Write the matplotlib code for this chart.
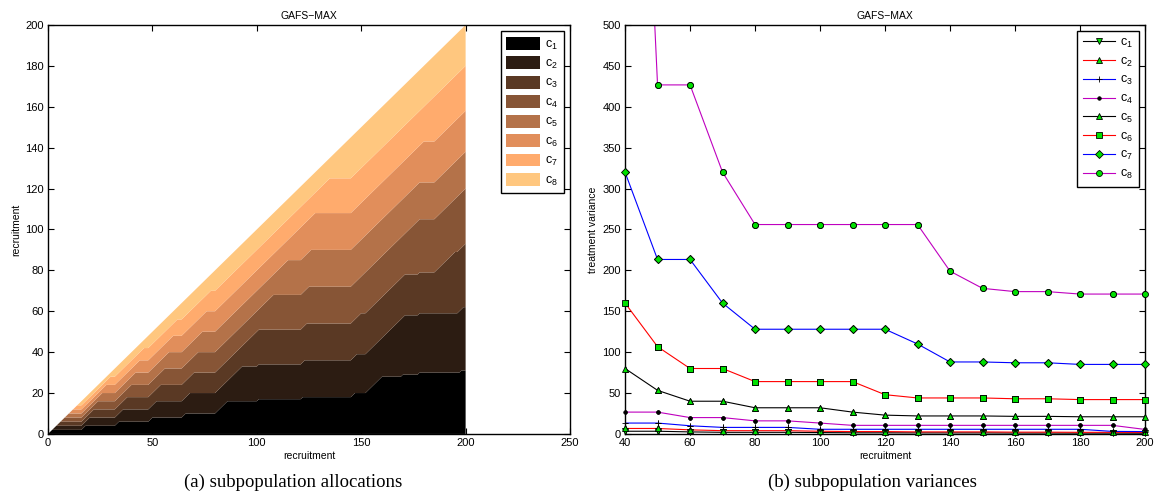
import numpy as np
import matplotlib.pyplot as plt
from matplotlib.patches import Patch

plt.rcParams['font.family'] = ['Liberation Sans', 'DejaVu Sans']
plt.rcParams['mathtext.default'] = 'regular'

# (a) order in which the recruits go to the subpopulations: class, how many in a row
run_class = [1, 2, 3, 4, 5, 6, 7, 8] * 5 + [1, 2, 3, 1, 4, 5, 6, 1, 2, 3, 4, 5, 6, 7, 8,
                                             1, 2, 3, 4, 1, 2, 1, 2, 4, 1, 6, 7, 3, 4, 2, 1, 2, 3]
run_size = [2] * 40 + [6, 7, 7, 1, 7, 7, 6, 1, 1, 1, 1, 1, 2, 7, 10,
                       2, 1, 2, 2, 8, 9, 1, 1, 6, 1, 2, 5, 10, 1, 1, 1, 1, 1]

# (b) treatment variances
recruit_b = [40, 50, 60, 70, 80, 90, 100, 110, 120, 130, 140, 150, 160, 170, 180, 190, 200]
var_c1 = [3.3, 3.3, 2.5, 2.0, 2.0, 2.0, 1.7, 1.4, 1.4, 1.3, 1.3, 1.3, 1.1, 1.1, 1.0, 1.0, 0.9]
var_c2 = [6.7, 6.7, 5.0, 4.0, 4.0, 4.0, 3.3, 2.9, 2.9, 2.5, 2.5, 2.5, 2.2, 2.2, 2.0, 2.0, 1.8]
var_c3 = [13.3, 13.3, 10.0, 8.0, 8.0, 8.0, 5.7, 5.7, 5.7, 5.7, 5.7, 5.7, 5.7, 5.7, 5.7, 3.1, 2.9]
var_c4 = [26.7, 26.7, 20.0, 20.0, 16.0, 16.0, 13.3, 10.5, 10.5, 10.5, 10.5, 10.5, 10.5, 10.5, 10.5, 10.5, 5.5]
var_c5 = [80.0, 53.3, 40.0, 40.0, 32.0, 32.0, 32.0, 26.7, 23.0, 22.0, 22.0, 22.0, 21.5, 21.5, 21.0, 21.0, 21.0]
var_c6 = [160.0, 106.7, 80.0, 80.0, 64.0, 64.0, 64.0, 64.0, 48.0, 44.0, 44.0, 44.0, 43.0, 43.0, 42.0, 42.0, 42.0]
var_c7 = [320.0, 213.3, 213.3, 160.0, 128.0, 128.0, 128.0, 128.0, 128.0, 110.0, 88.0, 88.0, 87.0, 87.0, 85.0, 85.0, 85.0]
var_c8 = [1280.0, 426.7, 426.7, 320.0, 256.0, 256.0, 256.0, 256.0, 256.0, 256.0, 199.0, 178.0, 174.0, 174.0, 171.0, 171.0, 171.0]

labels = ['c$_%d$' % k for k in range(1, 9)]

# allocations after each recruit
seq = np.repeat(run_class, run_size)
recruit_a = np.arange(len(seq) + 1)
alloc = np.array([[np.sum(seq[:n] == k) for n in recruit_a] for k in range(1, 9)])

fig = plt.figure(figsize=(11.56, 5.04), dpi=100)
ax1 = fig.add_axes([0.0415, 0.139, 0.4516, 0.8115])
ax2 = fig.add_axes([0.5407, 0.139, 0.4498, 0.8115])

cols = plt.cm.copper(np.linspace(0, 1, 8))
ax1.stackplot(recruit_a, alloc, colors=cols, linewidth=0)
ax1.set_xlim(0, 250)
ax1.set_ylim(0, 200)
ax1.set_xticks(range(0, 251, 50))
ax1.set_yticks(range(0, 201, 20))
ax1.set_xlabel('recruitment', fontsize=7.5, labelpad=2)
ax1.set_ylabel('recruitment', fontsize=7.5, labelpad=3)
ax1.set_title('GAFS\u2212MAX', fontsize=7.5, pad=4)
handles = [Patch(facecolor=c, edgecolor='none') for c in cols]
ax1.legend(handles, labels, loc='upper right', fontsize=9, fancybox=False,
           edgecolor='black', framealpha=1, handlelength=2.7, handleheight=1.2,
           labelspacing=0.38, borderaxespad=0.5, borderpad=0.45, handletextpad=0.4)

green = '#00e000'
series = [var_c1, var_c2, var_c3, var_c4, var_c5, var_c6, var_c7, var_c8]
line_cols = ['k', 'r', 'b', 'm', 'k', 'r', 'b', 'm']
markers = ['v', '^', '+', '.', '^', 's', 'D', 'o']
faces = [green, green, 'k', 'k', green, green, green, green]
sizes = [4.5, 4.5, 5, 5, 4.5, 4, 3.6, 4.3]
for vals, lc, mk, fc, ms, lab in zip(series, line_cols, markers, faces, sizes, labels):
    ax2.plot(recruit_b, vals, color=lc, lw=0.8, marker=mk, ms=ms, mfc=fc,
             mec='k', mew=0.6, label=lab)
    inside = [i for i, v in enumerate(vals) if v <= 500]
    ax2.plot([recruit_b[i] for i in inside], [vals[i] for i in inside], ls='none',
             marker=mk, ms=ms, mfc=fc, mec='k', mew=0.6, clip_on=False, zorder=5)
ax2.set_xlim(40, 200)
ax2.set_ylim(0, 500)
ax2.set_xticks(range(40, 201, 20))
ax2.set_yticks(range(0, 501, 50))
ax2.set_xlabel('recruitment', fontsize=7.5, labelpad=2)
ax2.set_ylabel('treatment variance', fontsize=7.5, labelpad=3)
ax2.set_title('GAFS\u2212MAX', fontsize=7.5, pad=4)
ax2.legend(loc='upper right', fontsize=9, fancybox=False, edgecolor='black',
           framealpha=1, handlelength=2.6, labelspacing=0.45, borderaxespad=0.5,
           borderpad=0.45, handletextpad=0.4)

for ax in (ax1, ax2):
    ax.tick_params(direction='in', top=True, right=True, length=4, width=0.8,
                   labelsize=8, pad=3)
    for s in ax.spines.values():
        s.set_linewidth(1.0)

fig.text(0.2535, 0.042, '(a) subpopulation allocations', family='Liberation Serif',
         fontsize=13.5, ha='center', va='center')
fig.text(0.755, 0.042, '(b) subpopulation variances', family='Liberation Serif',
         fontsize=13.5, ha='center', va='center')

fig.savefig('out.png', dpi=100)
